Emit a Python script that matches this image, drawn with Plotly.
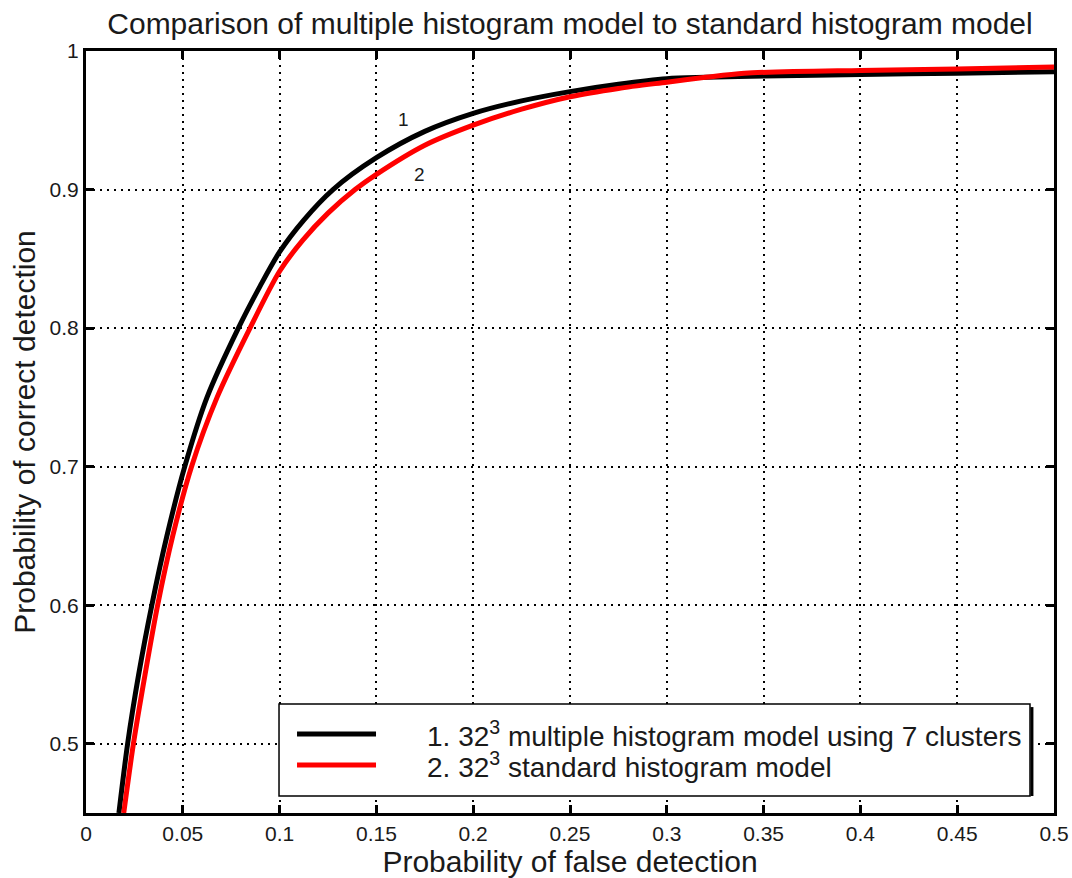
import plotly.graph_objects as go

# ---- data ----
black_x = [0.017, 0.0215, 0.0272, 0.034, 0.0418, 0.051, 0.0625, 0.0787, 0.09, 0.1,
           0.1125, 0.1276, 0.15, 0.175, 0.2, 0.225, 0.25, 0.275, 0.3, 0.32, 0.35,
           0.4, 0.45, 0.5]
black_y = [0.45, 0.5, 0.55, 0.6, 0.65, 0.7, 0.75, 0.8, 0.8305, 0.855,
           0.878, 0.9, 0.923, 0.942, 0.955, 0.964, 0.9707, 0.976, 0.980, 0.981, 0.982,
           0.983, 0.984, 0.985]

red_x = [0.0195, 0.0245, 0.0305, 0.037, 0.0448, 0.0545, 0.0677, 0.0847, 0.1,
         0.112, 0.125, 0.139, 0.15, 0.175, 0.2, 0.225, 0.25, 0.275, 0.3, 0.32,
         0.34, 0.4, 0.45, 0.5]
red_y = [0.45, 0.5, 0.55, 0.6, 0.65, 0.7, 0.75, 0.8, 0.841,
         0.8635, 0.883, 0.9, 0.911, 0.932, 0.9465, 0.958, 0.967, 0.973, 0.9775, 0.981,
         0.984, 0.986, 0.987, 0.9885]

x_ticks = [0, 0.05, 0.1, 0.15, 0.2, 0.25, 0.3, 0.35, 0.4, 0.45, 0.5]
x_tick_labels = ["0", "0.05", "0.1", "0.15", "0.2", "0.25", "0.3", "0.35", "0.4", "0.45", "0.5"]
y_ticks = [0.5, 0.6, 0.7, 0.8, 0.9, 1.0]
y_tick_labels = ["0.5", "0.6", "0.7", "0.8", "0.9", "1"]

legend_labels = ["1. 32<sup>3</sup> multiple histogram model using 7 clusters",
                 "2. 32<sup>3</sup> standard histogram model"]
series_colors = ["#000000", "#ff0000"]
curve_labels = ["1", "2"]
curve_label_pos = [(0.1639, 0.9504), (0.1725, 0.9108)]

FONT = "Liberation Sans, Arial, Helvetica, sans-serif"
TXT = "#1a1a1a"

fig = go.Figure()
for xs, ys, c, name in [(black_x, black_y, series_colors[0], "1"),
                        (red_x, red_y, series_colors[1], "2")]:
    fig.add_trace(go.Scatter(x=xs, y=ys, mode="lines", name=name,
                             line=dict(color=c, width=5, shape="spline", smoothing=0.8),
                             showlegend=False, hoverinfo="skip"))

axis_common = dict(
    showline=True, linecolor="black", linewidth=3, mirror="ticks",
    ticks="inside", ticklen=8, tickwidth=3, tickcolor="black",
    showgrid=True, gridcolor="black", gridwidth=1.5, griddash="2px,5px",
    zeroline=False, automargin=False,
    tickfont=dict(family=FONT, size=21, color=TXT),
)

fig.update_xaxes(range=[0, 0.5], tickvals=x_ticks, ticktext=x_tick_labels,
                 title=dict(text="Probability of false detection",
                            font=dict(family=FONT, size=30, color=TXT), standoff=4),
                 **axis_common)
fig.update_yaxes(range=[0.45, 1.0], tickvals=y_ticks, ticktext=y_tick_labels,
                 title=dict(text="Probability of correct detection",
                            font=dict(family=FONT, size=30, color=TXT), standoff=6),
                 **axis_common)

# curve labels
for txt, (lx, ly) in zip(curve_labels, curve_label_pos):
    fig.add_annotation(x=lx, y=ly, text=txt, showarrow=False,
                       font=dict(family=FONT, size=19, color=TXT))

# manual legend box (paper coordinates)
bx0, bx1, by0, by1 = 0.1994, 0.9752, 0.0223, 0.143
fig.add_shape(type="rect", xref="paper", yref="paper", x0=bx0, x1=bx1, y0=by0, y1=by1,
              fillcolor="white", line=dict(color="black", width=1.5), layer="above")
fig.add_shape(type="line", xref="paper", yref="paper", x0=bx1 + 0.002, x1=bx1 + 0.002,
              y0=by0, y1=by1 - 0.004, line=dict(color="black", width=3), layer="above")
leg_y = [0.1037, 0.063]
for lbl, col, ly in zip(legend_labels, series_colors, leg_y):
    fig.add_shape(type="line", xref="paper", yref="paper", x0=0.218, x1=0.2996,
                  y0=ly, y1=ly, line=dict(color=col, width=5), layer="above")
    fig.add_annotation(xref="paper", yref="paper", x=0.350, y=ly, text=lbl,
                       showarrow=False, xanchor="left", yanchor="middle",
                       font=dict(family=FONT, size=28, color=TXT))

fig.update_layout(
    width=1072, height=878,
    margin=dict(l=86, r=18, t=51, b=65, autoexpand=False),
    paper_bgcolor="white", plot_bgcolor="white",
    title=dict(text="Comparison of multiple histogram model to standard histogram model",
               x=0.5, xref="paper", xanchor="center", y=1 - 23 / 878, yanchor="middle",
               font=dict(family=FONT, size=30, color=TXT)),
    showlegend=False,
)

fig.write_html("out.html")
